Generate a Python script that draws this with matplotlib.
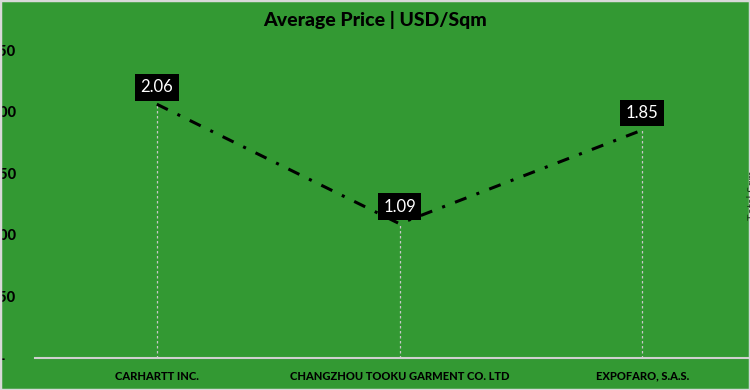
import matplotlib.pyplot as plt
from matplotlib.patches import Rectangle

# Data
companies = ["CARHARTT INC.", "CHANGZHOU TOOKU GARMENT CO. LTD", "EXPOFARO, S.A.S."]
avg_price = [2.06, 1.09, 1.85]
y_ticks = [0, 0.5, 1.0, 1.5, 2.0, 2.5]
y_tick_labels = ["-   ", "0.50", "1.00", "1.50", "2.00", "2.50"]

bg = "#339933"
plt.rcParams["font.family"] = ["Lato", "DejaVu Sans"]

fig = plt.figure(figsize=(7.5, 3.9), dpi=100)
fig.patch.set_facecolor(bg)

# axes runs past the right edge, the original image is cropped
ax = fig.add_axes([35.5 / 750, 1 - 358 / 390, 728 / 750, 308 / 390])
ax.set_facecolor(bg)

x = list(range(len(companies)))

# drop lines
ax.vlines(x, 0, avg_price, colors="#c8c8c8", linestyles=(0, (2, 2)), linewidth=0.9, zorder=1)

ax.plot(x, avg_price, color="black", linewidth=2.2,
        linestyle=(0, (4, 3.5, 1, 3.5)), zorder=2)

for xi, v in zip(x, avg_price):
    ax.annotate(f"{v:.2f}", (xi, v), xytext=(0, 17), textcoords="offset pixels",
                ha="center", va="center", color="white", fontsize=12,
                bbox=dict(boxstyle="square,pad=0.32", fc="black", ec="none"), zorder=3)

ax.set_xlim(-0.5, 2.5)
ax.set_ylim(0, 2.5)
ax.set_xticks(x)
ax.set_xticklabels(companies, fontsize=8, fontweight=900)
ax.set_yticks(y_ticks)
ax.set_yticklabels(y_tick_labels, fontsize=10.5, fontweight=900)
ax.tick_params(axis="both", length=0)
ax.tick_params(axis="y", pad=14)
ax.tick_params(axis="x", pad=9)

for s in ["top", "right", "left"]:
    ax.spines[s].set_visible(False)
ax.spines["bottom"].set_color("#d0d0d0")
ax.spines["bottom"].set_linewidth(1.5)

fig.text(0.5, 1 - 20 / 390, "Average Price | USD/Sqm", ha="center", va="center",
         fontsize=14, fontweight=900, color="black")

# cut-off secondary axis title at the right edge
fig.text(753 / 750, 0.5, "Total Sqm", rotation=90, ha="center", va="center",
         fontsize=8, color="#1a3d1a")

# light frame
fig.patches.append(Rectangle((0, 0), 1, 1, transform=fig.transFigure, fill=False,
                             edgecolor="#d9d9d9", linewidth=2.5))

fig.savefig("out.png", dpi=100, facecolor=bg)
